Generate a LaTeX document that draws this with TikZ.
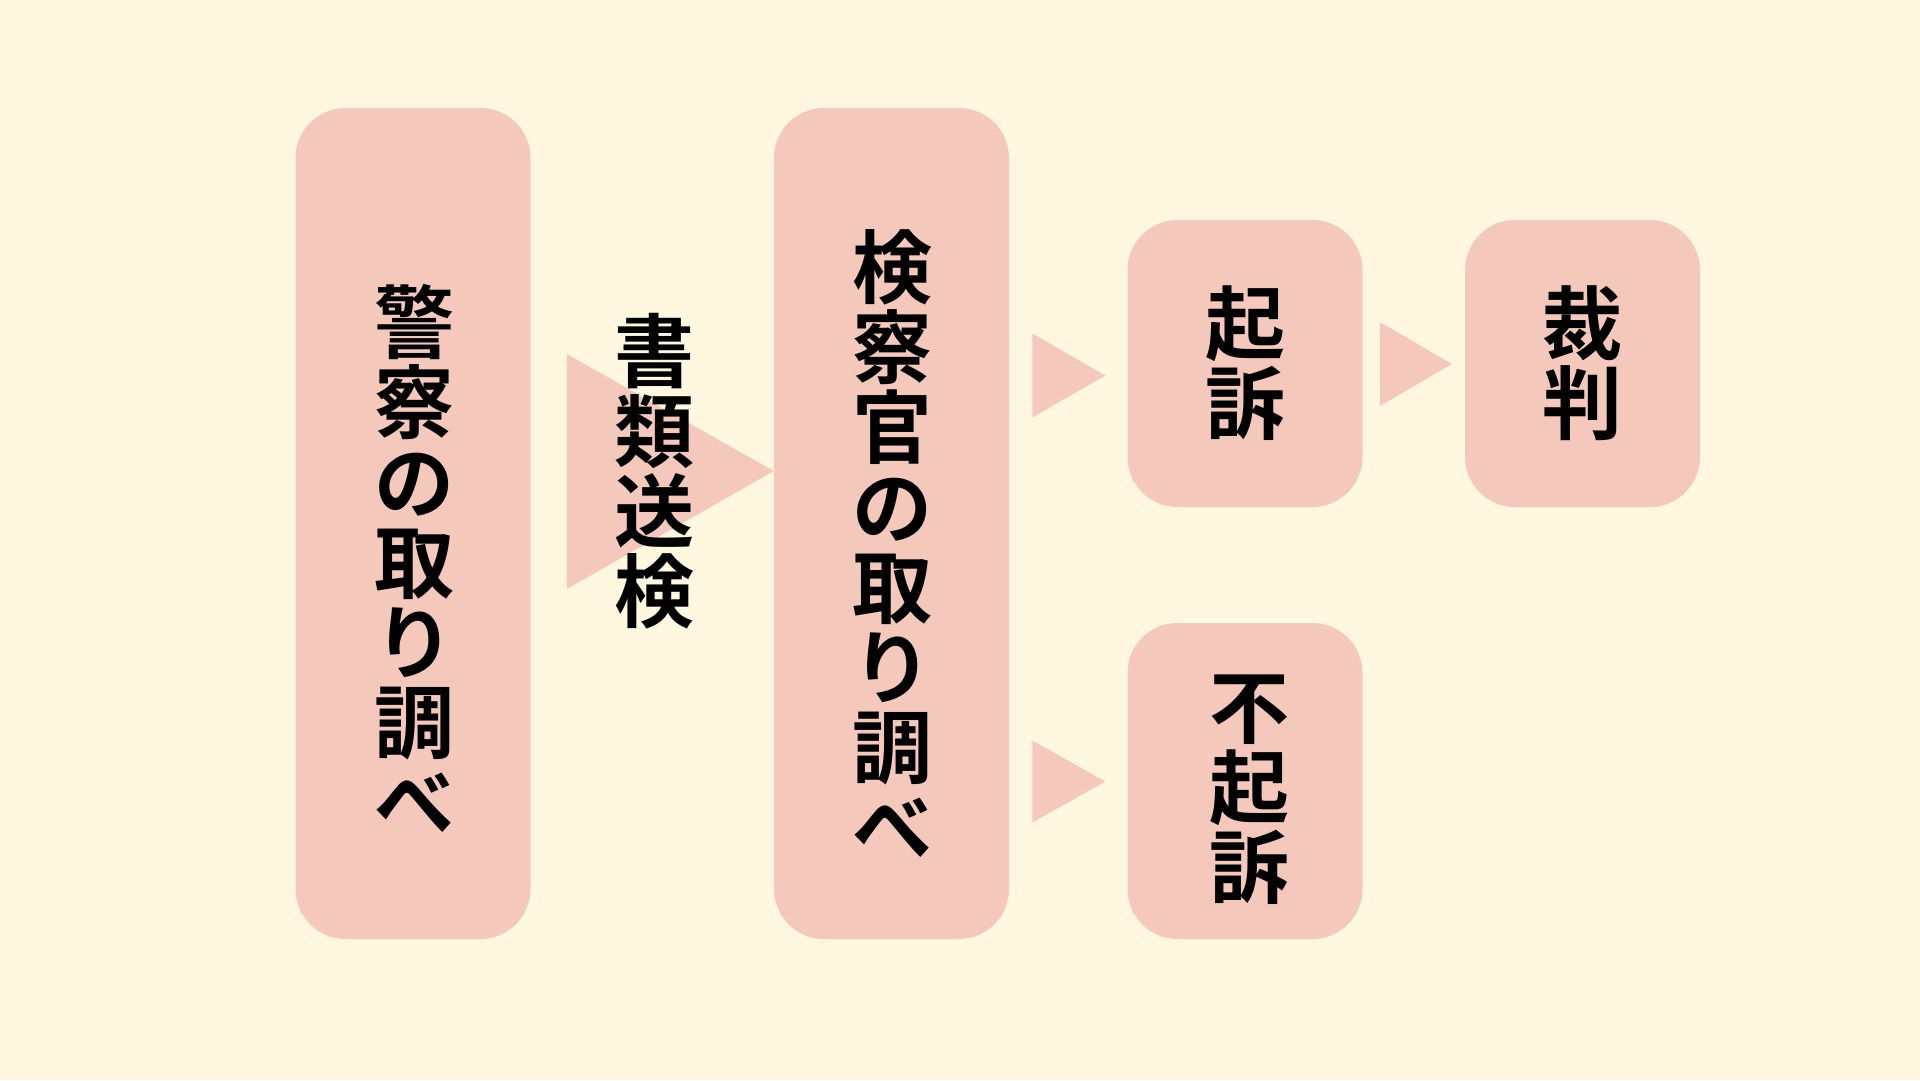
\documentclass[tikz,border=0pt]{standalone}
\usepackage{fontspec}
\newfontfamily\jpfont{Noto Sans CJK JP}[BoldFont={Noto Sans CJK JP Bold}]
\usetikzlibrary{calc}

\definecolor{paper}{RGB}{255,247,224}
\definecolor{pinkbox}{RGB}{245,200,188}

\tikzset{
  box/.style={fill=pinkbox,rounded corners=50pt,minimum width=235pt,inner sep=0pt},
  tate/.style={align=center,inner sep=0pt,font=\jpfont\bfseries\fontsize{80pt}{80pt}\selectfont},
  pointer/.style={fill=pinkbox}
}

\begin{document}
\begin{tikzpicture}[x=1pt,y=-1pt]
  \fill[paper] (0,0) rectangle (1920,1080);
  \useasboundingbox (0,0) rectangle (1920,1080);

  \node[box,minimum height=831pt] (police) at (413,523.5) {};
  \node[box,minimum height=831pt] (prosecutor) at (891.5,523.5) {};
  \node[box,minimum height=287pt] (indict) at (1245,363.5) {};
  \node[box,minimum height=287pt] (trial) at (1582.5,363.5) {};
  \node[box,minimum height=316pt] (noindict) at (1245,781) {};

  % pointers between the steps
  \coordinate (T1) at (prosecutor.west |- 0,471);
  \path[pointer] ($(T1)+(-207,-117)$) -- (T1) -- ($(T1)+(-207,118)$) -- cycle;
  \coordinate (T2) at ($(indict.west |- 0,375.5)+(-22,0)$);
  \path[pointer] ($(T2)+(-73,-42)$) -- (T2) -- ($(T2)+(-73,42)$) -- cycle;
  \coordinate (T3) at ($(trial.west |- 0,364)+(-13,0)$);
  \path[pointer] ($(T3)+(-72,-42)$) -- (T3) -- ($(T3)+(-72,42)$) -- cycle;
  \coordinate (T4) at ($(noindict.west |- 0,781.5)+(-22,0)$);
  \path[pointer] ($(T4)+(-73,-41)$) -- (T4) -- ($(T4)+(-73,41)$) -- cycle;

  \node[tate] (policetext) at (414,558) {警\\察\\の\\取\\り\\調\\べ};
  \node[tate] (sendtext) at (654,471) {書\\類\\送\\検};
  \node[tate] (prosecutortext) at (892,543) {検\\察\\官\\の\\取\\り\\調\\べ};
  \node[tate] (indicttext) at (indict.center) {起\\訴};
  \node[tate] (trialtext) at (trial.center) {裁\\判};
  \node[tate] (noindicttext) at (1249,790) {不\\起\\訴};
\end{tikzpicture}
\end{document}
